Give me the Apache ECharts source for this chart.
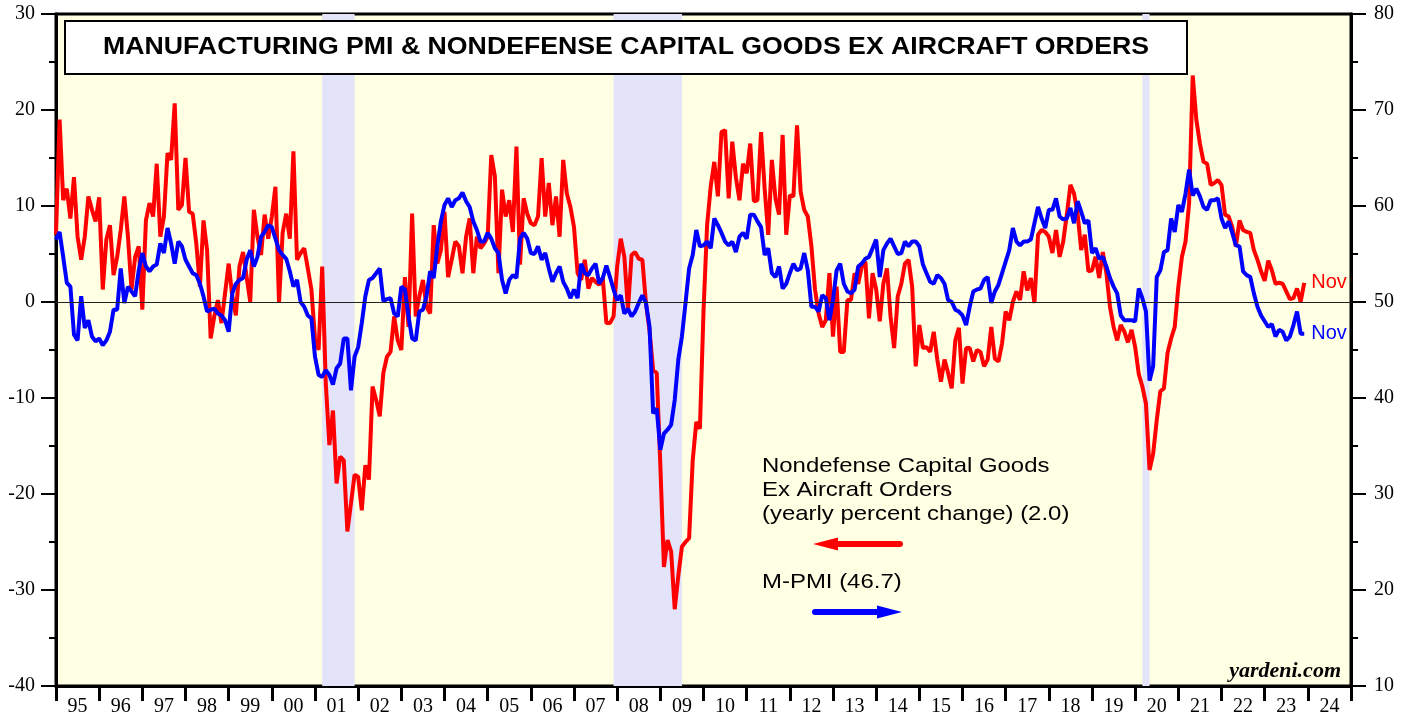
<!DOCTYPE html>
<html>
<head>
<meta charset="utf-8">
<title>Manufacturing PMI & Nondefense Capital Goods ex Aircraft Orders</title>
<script src="https://cdn.jsdelivr.net/npm/echarts@6/dist/echarts.min.js"></script>
<style>
  html, body { margin: 0; padding: 0; background: #fff; }
  #main { width: 1419px; height: 717px; }
</style>
</head>
<body>
<div id="main"></div>
<script>
  // monthly values, plotted at month end: first value is Dec 1994, last is Nov 2023
  var startYear = 1995;

  // nondefense capital goods ex aircraft orders, yearly % change (left axis)
  var capexOrders = [
    7, 19, 10.6, 11.8, 8.7, 13, 6.8, 4.4, 6.8, 11, 9.6, 8.4,
    10.9, 1.3, 6.5, 8, 2.8, 4.7, 7.5, 11, 6.8, 1.3, 4.7, 5.8,
    -0.8, 8.5, 10.3, 8.9, 14.4, 6.8, 8.9, 15.5, 14.8, 20.7, 9.6, 10.1,
    15, 9.4, 9.2, 6.1, 1.6, 8.5, 5.4, -3.8, -1.5, 0.2, -2.2, 0.9,
    4, 0.6, -1.4, 3.7, 5.2, 2.6, 0, 9.6, 6.8, 4.9, 9.1, 6.6,
    8.9, 12, -0.1, 7.2, 9.2, 6.6, 15.7, 4.4, 5.1, 5.6, 3.5, 1.3,
    -3.8, -5, 3.7, -8.5, -14.9, -11.3, -18.9, -16.1, -16.5, -23.9, -21, -18,
    -18.2, -21.7, -17, -18.5, -8.8, -10.2, -11.9, -7.4, -5.7, -5.2, -1.5, -4,
    -5, 2.6, -2.6, 9.2, -1.5, 0.6, 2.3, -0.5, -1.2, 8, 4, 5.4,
    9.4, 2.6, 4.4, 6.3, 5.8, 3, 6.8, 8.7, 3, 6.8, 5.6, 6.1,
    6.8, 15.3, 13.1, 3, 11.7, 8.9, 10.6, 7.3, 16.2, 3.9, 10.8, 9.2,
    8.2, 8, 8.9, 15, 8.9, 12.4, 8, 11, 6.8, 14.8, 11.3, 9.9,
    7.8, 3, 2.3, 4.4, 1.4, 2.5, 2.1, 1.8, 2.5, -2.2, -2.2, -1.5,
    3.7, 6.6, 4.7, -0.8, 4.9, 5.2, 4.5, 4.4, -0.1, -3, -7.1, -7.4,
    -17, -27.6, -24.8, -26, -32, -28.5, -25.5, -25, -24.6, -16.5, -12.5, -13.2,
    -1, 8, 12, 14.6, 11, 17.7, 17.9, 10.8, 16.7, 13, 10.6, 14.4,
    13.4, 16.5, 10.5, 10.6, 17.7, 11.8, 7, 14.8, 10.8, 9.1, 17.4, 7,
    11.1, 11, 18.4, 11.5, 9.6, 8.9, 5.8, 1.3, -1.2, -2.6, -1.9, 3,
    -3.6, 1.6, -5.2, -5.2, 0.2, 0.2, 3, 1.9, 3.7, 4.2, -1.7, 3,
    1.3, -2, 1.9, 3.5, -1.5, -4.8, 0.6, 1.9, 4, 4.4, 1.6, -6.7,
    -2.4, -4.8, -4.7, -5.2, -3.1, -6, -8.3, -6, -7.4, -9, -4, -2.7,
    -8.5, -4.8, -4.8, -6.2, -5, -5.2, -6.7, -6, -2.6, -5.9, -6.2, -4.3,
    -1, -1.9, 0, 1.1, 0.2, 3.2, 1.2, 2.5, -0.1, 7, 7.5, 7.3,
    6.8, 5.1, 7.5, 4.7, 6.3, 9.1, 12.2, 11.3, 9.2, 5.4, 7, 3.2,
    3.3, 4.7, 2.5, 5.2, 3, -0.5, -2.6, -4, -2.4, -3.1, -4.2, -2.9,
    -4.7, -7.5, -8.8, -10.6, -17.5, -15.8, -12.3, -9.3, -9, -5.3, -3.8, -2.6,
    1.6, 4.7, 6.3, 10.3, 23.6, 19, 16.5, 14.6, 14.4, 12.2, 12.4, 12.7,
    12.2, 9.1, 8.9, 7.8, 5.8, 8.5, 7.5, 7.3, 7.2, 5.4, 4.4, 3.2,
    2.2, 4.3, 3.3, 1.9, 2.0, 1.9, 1.1, 0.3, 0.4, 1.4, 0, 2.0
  ];

  // ISM manufacturing PMI (right axis)
  var pmi = [
    56.5, 57.3, 54.7, 52, 51.6, 46.6, 46, 50.6, 47.3, 48.1, 46.4, 45.9,
    46.2, 45.5, 46, 46.9, 49.2, 49.2, 53.5, 49.9, 51.6, 51.1, 50.6, 53.3,
    55.1, 53.7, 53.2, 53.7, 53.9, 56.1, 55.1, 57.7, 56.1, 54, 56.3, 55.8,
    54.4, 53.7, 53, 52.8, 51.9, 50.6, 49, 49.2, 49.3, 48.8, 48.6, 48.1,
    46.9, 50.9, 51.9, 52.3, 52.5, 54.4, 55.4, 53.7, 54.7, 56.8, 57.3, 58,
    57.8, 56.6, 55.4, 54.9, 54.5, 53.2, 51.6, 52.3, 50, 49.5, 48.6, 48.3,
    44.3, 42.4, 42.2, 42.9, 42.4, 41.4, 43.1, 43.6, 46.2, 46.2, 40.8, 44.3,
    45.3, 47.8, 50.6, 52.3, 52.5, 53, 53.5, 50.1, 50.3, 50.4, 48.8, 48.5,
    51.6, 51.3, 48.5, 46.2, 46, 49, 49.2, 50.6, 53.2, 52.5, 55.8, 58.4,
    60.1, 60.8, 59.9, 60.6, 60.8, 61.4, 60.5, 59.9, 58.4, 57.5, 56.3, 56.3,
    57.2, 56.6, 55.6, 55.1, 52.3, 50.9, 52.3, 52.8, 52.5, 56.6, 57.2, 56.6,
    55.1, 55, 55.8, 54.4, 55.1, 53.5, 52.1, 53, 53.7, 52.1, 51.4, 50.4,
    51.3, 50.4, 54, 53, 52.8, 53.5, 54, 51.9, 52.5, 53.8, 52.6, 51.3,
    50.2, 50.7, 48.8, 49.3, 48.5, 49, 49.9, 50.7, 49.9, 47.4, 38.4, 38.9,
    34.6, 36.3, 36.7, 37.2, 39.8, 44, 46.4, 49.9, 53.5, 54.9, 57.5, 55.8,
    55.9, 56.3, 55.6, 58.7, 58, 57.2, 56.3, 55.9, 56.3, 55.2, 56.8, 57.2,
    56.6, 59.1, 59.1, 58.4, 57.8, 54.9, 55.6, 53, 52.6, 53.7, 51.4, 51.9,
    53, 54, 53.3, 53.5, 55.1, 53.3, 49.5, 49.5, 49, 50.7, 50.4, 48.1,
    50.2, 53.3, 54, 51.9, 51.1, 50.9, 51.3, 53.7, 54, 54.5, 54.7, 55.6,
    56.5, 52.6, 55.4, 56.1, 56.6, 55.8, 55, 55.1, 56.3, 55.8, 56.3, 56.3,
    55.8, 53.9, 53, 52.1, 51.9, 52.8, 52.5, 51.9, 50.2, 50, 49.2, 49,
    48.6, 47.6, 49.5, 51.1, 51.3, 51.4, 52.3, 52.6, 49.9, 51.1, 51.8, 53,
    54.2, 55.4, 57.7, 56.3, 55.9, 56.3, 56.3, 56.5, 58.2, 59.9, 58.7, 57.7,
    59.6, 59.6, 60.8, 58.9, 58.6, 58.7, 59.8, 58.2, 60.5, 59.4, 58.2, 58.5,
    55.1, 55.6, 54.5, 54.7, 53.7, 52.5, 51.6, 50.9, 48.6, 48.1, 48.1, 48.1,
    48, 51.4, 50.4, 49, 41.8, 43.3, 52.6, 53.3, 55.2, 55.4, 58.7, 57.3,
    60.1, 59.4, 61.3, 63.8, 61.1, 61.8, 61, 59.9, 59.6, 60.6, 60.6, 60.8,
    58.7, 57.7, 58.4, 57.2, 55.9, 55.8, 53.2, 52.8, 52.6, 50.9, 49.5, 48.6,
    48, 47.4, 47.7, 46.4, 47.1, 46.9, 46, 46.4, 47.6, 49, 46.7, 46.7
  ];

  var yearLabels = ['95', '96', '97', '98', '99', '00', '01', '02', '03', '04',
    '05', '06', '07', '08', '09', '10', '11', '12', '13', '14',
    '15', '16', '17', '18', '19', '20', '21', '22', '23', '24'];

  // recessions (start month, end month)
  var recessions = [['2001-03', '2001-12'], ['2007-12', '2009-07'], ['2020-03', '2020-05']];

  var titleText = 'MANUFACTURING PMI & NONDEFENSE CAPITAL GOODS EX AIRCRAFT ORDERS';
  var redLegend = ['Nondefense Capital Goods', 'Ex Aircraft Orders', '(yearly percent change) (2.0)'];
  var blueLegend = 'M-PMI (46.7)';
  var lastMonth = 'Nov';

  function toYear(s) {
    var p = s.split('-');
    return +p[0] + (p[1] - 1) / 12;
  }
  function toPoints(arr) {
    return arr.map(function (v, i) { return [startYear + i / 12, v]; });
  }

  var chart = echarts.init(document.getElementById('main'));

  var serif = 'Liberation Serif';
  var sans = 'Liberation Sans';
  var axisText = { fontSize: 20, color: '#000', fontFamily: serif };

  var option = {
    animation: false,
    backgroundColor: '#fff',
    grid: {
      left: 56, right: 68, top: 14, bottom: 31,
      show: true,
      backgroundColor: '#ffffe4',
      borderColor: '#000',
      borderWidth: 3
    },
    xAxis: [
      {
        type: 'value', min: 1995, max: 2025, interval: 1, position: 'bottom',
        axisLine: { onZero: false, lineStyle: { color: '#000', width: 3 } },
        axisTick: { length: 15, lineStyle: { color: '#000', width: 3 } },
        axisLabel: { show: false },
        splitLine: { show: false }
      },
      {
        type: 'category', data: yearLabels, position: 'bottom', boundaryGap: true,
        axisLine: { show: false, onZero: false },
        axisTick: { show: false },
        axisLabel: Object.assign({ margin: 11, interval: 0 }, axisText)
      }
    ],
    yAxis: [
      {
        type: 'value', min: -40, max: 30, interval: 10, position: 'left',
        axisLine: { show: true, lineStyle: { color: '#000', width: 3 } },
        axisTick: { show: true, length: 15, lineStyle: { color: '#000', width: 2 } },
        minorTick: { show: true, splitNumber: 2, length: 7, lineStyle: { color: '#000', width: 2 } },
        axisLabel: Object.assign({ margin: 21 }, axisText),
        splitLine: { show: false }
      },
      {
        type: 'value', min: 10, max: 80, interval: 10, position: 'right',
        axisLine: { show: true, lineStyle: { color: '#000', width: 3 } },
        axisTick: { show: true, length: 15, lineStyle: { color: '#000', width: 2 } },
        minorTick: { show: true, splitNumber: 2, length: 7, lineStyle: { color: '#000', width: 2 } },
        axisLabel: Object.assign({ margin: 23 }, axisText),
        splitLine: { show: false }
      }
    ],
    series: [
      {
        name: 'recessions', type: 'line', data: [], z: 1, silent: true,
        markArea: {
          silent: true,
          itemStyle: { color: '#e3e3fa' },
          data: recessions.map(function (r) {
            return [{ xAxis: toYear(r[0]) }, { xAxis: toYear(r[1]) }];
          })
        }
      },
      {
        name: 'zero', type: 'line', data: [], z: 2, silent: true,
        markLine: {
          silent: true, symbol: 'none',
          label: { show: false },
          lineStyle: { color: '#222', width: 1, type: 'solid' },
          data: [{ yAxis: 0 }]
        }
      },
      {
        name: 'Nondefense Capital Goods Ex Aircraft Orders', type: 'line',
        xAxisIndex: 0, yAxisIndex: 0, z: 3,
        data: toPoints(capexOrders),
        showSymbol: false,
        lineStyle: { color: '#ff0000', width: 4 },
        itemStyle: { color: '#ff0000' },
        endLabel: { show: true, formatter: lastMonth, color: '#ff0000', fontSize: 20, fontFamily: sans, distance: 7 }
      },
      {
        name: 'M-PMI', type: 'line',
        xAxisIndex: 0, yAxisIndex: 1, z: 4,
        data: toPoints(pmi),
        showSymbol: false,
        lineStyle: { color: '#0000ff', width: 4 },
        itemStyle: { color: '#0000ff' },
        endLabel: { show: true, formatter: lastMonth, color: '#0000ff', fontSize: 20, fontFamily: sans, distance: 7 }
      }
    ],
    graphic: [
      // title box
      {
        type: 'rect', z: 20,
        shape: { x: 65, y: 21, width: 1122, height: 53 },
        style: { fill: '#fff', stroke: '#000', lineWidth: 2 }
      },
      {
        type: 'text', z: 21, x: 626, y: 48, scaleX: 1.16,
        style: {
          text: titleText, fill: '#000', align: 'center', verticalAlign: 'middle',
          fontSize: 23, fontWeight: 'bold', fontFamily: sans
        }
      },
      // legend
      {
        type: 'text', z: 21, x: 762, y: 466, scaleX: 1.14,
        style: { text: redLegend[0], fill: '#000', verticalAlign: 'middle', fontSize: 21, fontFamily: sans }
      },
      {
        type: 'text', z: 21, x: 762, y: 490, scaleX: 1.14,
        style: { text: redLegend[1], fill: '#000', verticalAlign: 'middle', fontSize: 21, fontFamily: sans }
      },
      {
        type: 'text', z: 21, x: 762, y: 514, scaleX: 1.14,
        style: { text: redLegend[2], fill: '#000', verticalAlign: 'middle', fontSize: 21, fontFamily: sans }
      },
      {
        type: 'text', z: 21, x: 762, y: 582, scaleX: 1.14,
        style: { text: blueLegend, fill: '#000', verticalAlign: 'middle', fontSize: 21, fontFamily: sans }
      },
      // red arrow (points left, to the left axis)
      {
        type: 'line', z: 21,
        shape: { x1: 830, y1: 544, x2: 900, y2: 544 },
        style: { stroke: '#ff0000', lineWidth: 6, lineCap: 'round' }
      },
      {
        type: 'polygon', z: 21,
        shape: { points: [[813, 544], [838, 537.5], [838, 550.5]] },
        style: { fill: '#ff0000' }
      },
      // blue arrow (points right, to the right axis)
      {
        type: 'line', z: 21,
        shape: { x1: 815, y1: 612, x2: 885, y2: 612 },
        style: { stroke: '#0000ff', lineWidth: 6, lineCap: 'round' }
      },
      {
        type: 'polygon', z: 21,
        shape: { points: [[902, 612], [877, 605.5], [877, 618.5]] },
        style: { fill: '#0000ff' }
      },
      {
        type: 'text', z: 21, x: 1341, y: 671,
        style: {
          text: 'yardeni.com', fill: '#000', align: 'right', verticalAlign: 'middle',
          fontSize: 22, fontWeight: 'bold', fontStyle: 'italic', fontFamily: serif
        }
      }
    ]
  };

  option && chart.setOption(option);
</script>
</body>
</html>
